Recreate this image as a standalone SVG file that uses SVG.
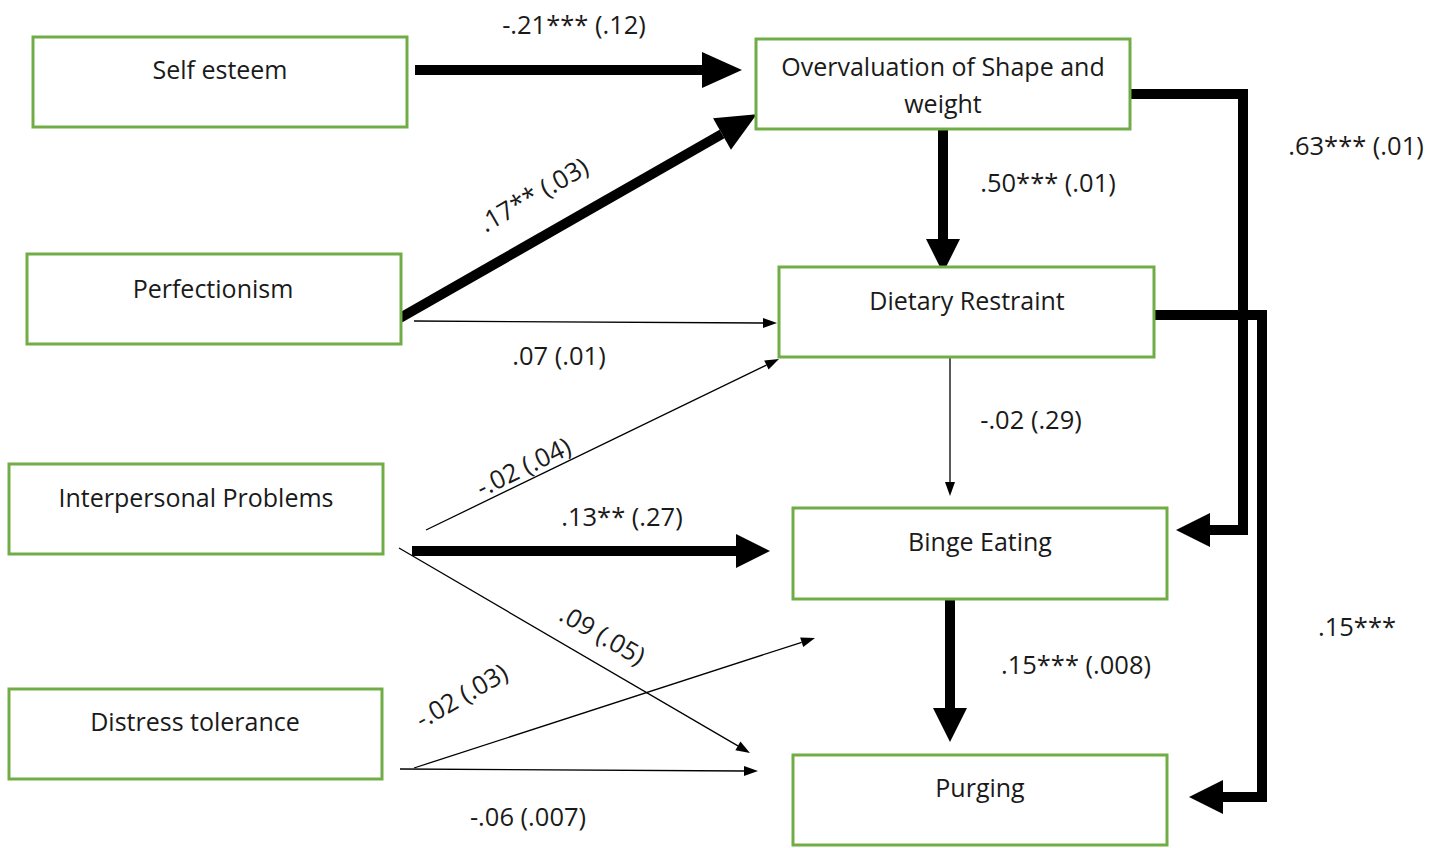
<svg xmlns="http://www.w3.org/2000/svg" width="1446" height="848" viewBox="0 0 1446 848">
<defs>
<style>
.box{fill:#fff;stroke:#70AD47;stroke-width:3}
.t{font-family:"Open Sans","Noto Sans","Liberation Sans",sans-serif;font-size:25px;fill:#1a1a1a;text-anchor:middle;dominant-baseline:central}
.l{font-size:25.5px}
.thick{stroke:#000;stroke-width:10;fill:none;stroke-linejoin:miter}
.thin{stroke:#000;stroke-width:1.3;fill:none}
</style>
<marker id="big" markerUnits="userSpaceOnUse" markerWidth="40" markerHeight="36" refX="0" refY="18" orient="auto" overflow="visible">
<path d="M0,0 L40,18 L0,36 Z" fill="#000"/>
</marker>
<marker id="mid" markerUnits="userSpaceOnUse" markerWidth="34" markerHeight="34" refX="0" refY="17" orient="auto" overflow="visible">
<path d="M0,0 L34,17 L0,34 Z" fill="#000"/>
</marker>
<marker id="small" markerUnits="userSpaceOnUse" markerWidth="14" markerHeight="10" refX="0" refY="5" orient="auto" overflow="visible">
<path d="M0,0 L14,5 L0,10 Z" fill="#000"/>
</marker>
</defs>
<rect width="1446" height="848" fill="#fff"/>

<g id="connectors">
<line class="thick" x1="415" y1="70" x2="702" y2="70" marker-end="url(#big)"/>
<line class="thick" x1="400" y1="318" x2="722" y2="134" marker-end="url(#big)"/>
<line class="thin" x1="414" y1="321" x2="763" y2="323" marker-end="url(#small)"/>
<line class="thin" x1="426" y1="530" x2="766.4" y2="365.1" marker-end="url(#small)"/>
<line class="thick" x1="412" y1="551" x2="736" y2="551" marker-end="url(#mid)"/>
<line class="thin" x1="399" y1="548" x2="737.9" y2="745.9" marker-end="url(#small)"/>
<line class="thin" x1="414" y1="768" x2="801.7" y2="642.3" marker-end="url(#small)"/>
<line class="thin" x1="400" y1="769" x2="744" y2="771" marker-end="url(#small)"/>
<line class="thick" x1="943" y1="129" x2="943" y2="239" marker-end="url(#mid)"/>
<line class="thin" x1="950" y1="358" x2="950" y2="482" marker-end="url(#small)"/>
<line class="thick" x1="950" y1="597" x2="950" y2="708" marker-end="url(#mid)"/>
<path class="thick" d="M1130,94 H1243 V530 H1210" marker-end="url(#mid)"/>
<path class="thick" d="M1154,315 H1262 V797 H1223" marker-end="url(#mid)"/>
</g>

<g id="labels">
<text class="t l" x="574" y="24">-.21*** (.12)</text>
<text class="t l" x="533" y="194" transform="rotate(-30 533 194)">.17** (.03)</text>
<text class="t l" x="559" y="355">.07 (.01)</text>
<text class="t l" x="523" y="466" transform="rotate(-26 523 466)">-.02 (.04)</text>
<text class="t l" x="622" y="516">.13** (.27)</text>
<text class="t l" x="603" y="634" transform="rotate(30 603 634)">.09 (.05)</text>
<text class="t l" x="461" y="695" transform="rotate(-30 461 695)">-.02 (.03)</text>
<text class="t l" x="528" y="816">-.06 (.007)</text>
<text class="t l" x="1048" y="182">.50*** (.01)</text>
<text class="t l" x="1031" y="419">-.02 (.29)</text>
<text class="t l" x="1076" y="664">.15*** (.008)</text>
<text class="t l" x="1356" y="145">.63*** (.01)</text>
<text class="t l" x="1357" y="626">.15***</text>
</g>

<g id="self-esteem"><rect class="box" x="33" y="37" width="374" height="90"/><text class="t" x="220" y="69">Self esteem</text></g>
<g id="perfectionism"><rect class="box" x="27" y="254" width="374" height="90"/><text class="t" x="213" y="288">Perfectionism</text></g>
<g id="interpersonal"><rect class="box" x="9" y="464" width="374" height="90"/><text class="t" x="196" y="497">Interpersonal Problems</text></g>
<g id="distress"><rect class="box" x="9" y="689" width="373" height="90"/><text class="t" x="195" y="721">Distress tolerance</text></g>
<g id="overvaluation"><rect class="box" x="756" y="39" width="374" height="90"/><text class="t" x="943" y="66">Overvaluation of Shape and</text><text class="t" x="943" y="103">weight</text></g>
<g id="dietary"><rect class="box" x="779" y="267" width="375" height="90"/><text class="t" x="967" y="300">Dietary Restraint</text></g>
<g id="binge"><rect class="box" x="793" y="508" width="374" height="91"/><text class="t" x="980" y="541">Binge Eating</text></g>
<g id="purging"><rect class="box" x="793" y="755" width="374" height="90"/><text class="t" x="980" y="787">Purging</text></g>
</svg>
